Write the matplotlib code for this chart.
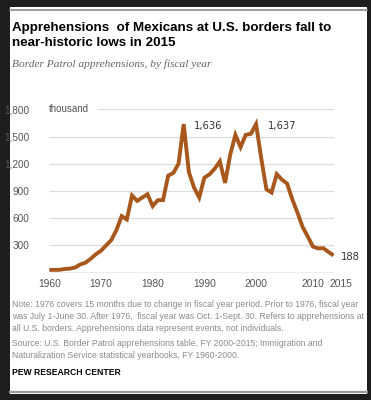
import matplotlib
matplotlib.use("Agg")
import matplotlib.pyplot as plt
import matplotlib.transforms as mtransforms
from matplotlib.patches import Rectangle
from matplotlib.lines import Line2D
import numpy as np

# Border Patrol apprehensions of Mexicans, thousands, fiscal years 1960-2015
years = np.arange(1960, 2016)
apprehensions = [29, 29, 30, 39, 43, 55, 89, 108, 151, 201,
                 240, 300, 358, 470, 622, 585, 849, 790, 827, 863,
                 732, 798, 798, 1068, 1098, 1200, 1636, 1108, 937, 827,
                 1046, 1083, 1145, 1226, 988, 1299, 1518, 1383, 1518, 1530,
                 1637, 1260, 918, 882, 1085, 1024, 981, 809, 662, 503,
                 397, 286, 266, 268, 227, 188]

y_ticks = [300, 600, 900, 1200, 1500, 1800]
y_labels = ["300", "600", "900", "1,200", "1,500", "1,800"]
x_ticks = [1960, 1970, 1980, 1990, 2000, 2010, 2015]
callouts = [(1986, "1,636"), (2000, "1,637"), (2015, "188")]

title = "Apprehensions  of Mexicans at U.S. borders fall to\nnear-historic lows in 2015"
subtitle = "Border Patrol apprehensions, by fiscal year"
note = ("Note: 1976 covers 15 months due to change in fiscal year period. Prior to 1976, fiscal year\n"
        "was July 1-June 30. After 1976,  fiscal year was Oct. 1-Sept. 30. Refers to apprehensions at\n"
        "all U.S. borders. Apprehensions data represent events, not individuals.")
source = ("Source: U.S. Border Patrol apprehensions table, FY 2000-2015; Immigration and\n"
          "Naturalization Service statistical yearbooks, FY 1960-2000.")

W, H = 371, 400
narrow = ["Liberation Sans Narrow", "Liberation Sans", "DejaVu Sans"]
line_color = "#A8581C"

fig = plt.figure(figsize=(W / 100, H / 100), dpi=100, facecolor="#1e1e1e")

# white card with thin rules at top and bottom
fig.patches.append(Rectangle((10 / W, 6 / H), 357 / W, 387 / H, transform=fig.transFigure,
                             facecolor="white", edgecolor="none", zorder=-5))
fig.lines.append(Line2D([10 / W, 367 / W], [1 - 10 / H] * 2, transform=fig.transFigure,
                        color="#8c8c8c", lw=1.2, zorder=-4))
fig.lines.append(Line2D([10 / W, 367 / W], [1 - 391.5 / H] * 2, transform=fig.transFigure,
                        color="#9a9a9a", lw=1.6, zorder=-4))


def fx(px):
    return px / W


def fy(py):
    return 1 - py / H


fig.text(fx(12), fy(35.5), title, fontsize=9.6, fontweight="bold", family=narrow,
         color="black", va="center", linespacing=1.25)
fig.text(fx(12), fy(64), subtitle, fontsize=8.2, style="italic", family=["Liberation Serif", "DejaVu Serif"],
         color="#666666", va="center")

ax = fig.add_axes([fx(49.3), fy(272.5), (333.6 - 49.3) / W, (272.5 - 109.3) / H])
ax.set_facecolor("none")
ax.set_xlim(1960, 2015)
ax.set_ylim(0, 1800)
for s in ax.spines.values():
    s.set_visible(False)

for v in y_ticks[:-1]:
    ax.hlines(v, 1960, 2015, color="#dcdcdc", lw=0.9, zorder=1)
ax.hlines(y_ticks[-1], 1969.2, 2015, color="#dcdcdc", lw=0.9, zorder=1)
ax.hlines(0, 1960, 2015, color="#a8a8a8", lw=1.0, zorder=1)

ax.plot(years, apprehensions, color=line_color, lw=2.8, solid_joinstyle="miter",
        solid_capstyle="butt", zorder=3)

ax.set_yticks(y_ticks)
ax.set_yticklabels(y_labels)
ax.set_xticks(x_ticks)
ax.set_xticklabels([str(x) for x in x_ticks])
ax.tick_params(length=0, colors="#555555")
ax.tick_params(axis="y", pad=14)
ax.tick_params(axis="x", pad=5)
for lab in ax.get_yticklabels():
    lab.set_family(narrow)
    lab.set_fontsize(7.2)
for lab in ax.get_xticklabels():
    lab.set_family(["Liberation Sans", "DejaVu Sans"])
    lab.set_fontsize(7.4)
# last two year labels sit a little to the right in the original
for lab, dx in zip(ax.get_xticklabels()[-2:], [5, 7]):
    lab.set_transform(lab.get_transform() + mtransforms.ScaledTranslation(dx / 100, 0, fig.dpi_scale_trans))

ax.text(1960, 1800, "thousand", fontsize=7, family=narrow, color="#555555", va="center", ha="left")

for yr, txt in callouts:
    val = apprehensions[list(years).index(yr)]
    dx = {1986: 10, 2000: 12, 2015: 7.5}[yr]
    ax.annotate(txt, (yr, val), xytext=(dx, -1.5), textcoords="offset pixels",
                fontsize=7.2, color="#333333", va="center", ha="left", annotation_clip=False)

fig.text(fx(12), fy(316.5), note, fontsize=6.2, family=narrow, color="#8a8a8a",
         va="center", linespacing=1.45)
fig.text(fx(12), fy(349.5), source, fontsize=6.2, family=narrow, color="#8a8a8a",
         va="center", linespacing=1.45)
fig.text(fx(12), fy(372.7), "PEW RESEARCH CENTER", fontsize=6.2, fontweight="bold",
         family=narrow, color="black", va="center")

fig.savefig("out.png", dpi=100, facecolor=fig.get_facecolor())
